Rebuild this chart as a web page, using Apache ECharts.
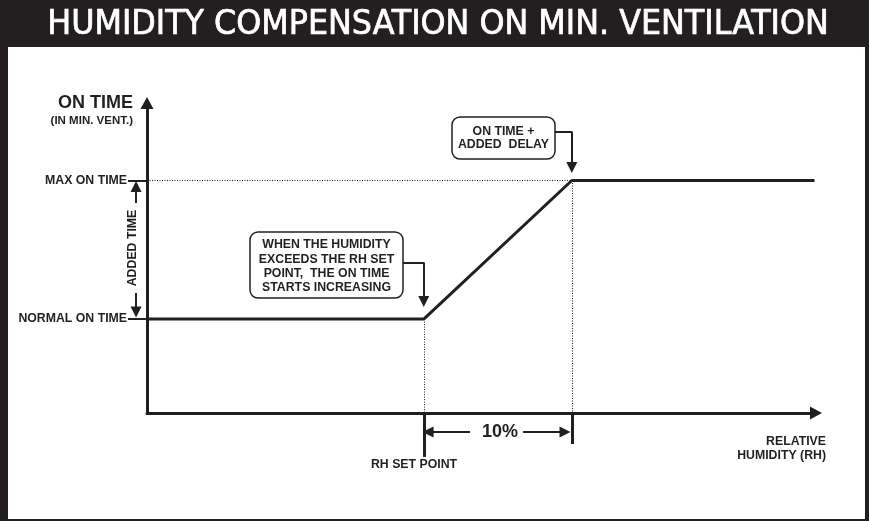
<!DOCTYPE html>
<html>
<head>
<meta charset="utf-8">
<style>
  html, body { margin: 0; padding: 0; background: #ffffff; }
  #chart { width: 869px; height: 521px; }
</style>
<script src="https://cdn.jsdelivr.net/npm/echarts@6/dist/echarts.min.js"></script>
</head>
<body>
<div id="chart"></div>
<script>
// Relative humidity (%) and ON time (arbitrary units of the min. ventilation cycle)
const rhAxisRange = [41.3, 86.5];
const onTimeAxisRange = [0, 132];

const rhSetPoint = 60;          // RH set point
const rhBand = 10;              // compensation band, in % RH
const normalOnTime = 40;
const maxOnTime = 99;

// Compensation curve
const curveRh = [41.3, 60, 70, 86.4];
const curveOnTime = [40, 40, 99, 99];

// Y axis tick labels
const yTickValues = [normalOnTime, maxOnTime];
const yTickNames = ['NORMAL ON TIME', 'MAX ON TIME'];

const INK = '#231f20';
const LABEL_FONT = 'bold 12.3px "Liberation Sans", Arial, sans-serif';

const chart = echarts.init(document.getElementById('chart'), null, { renderer: 'canvas' });

const rhFull = rhSetPoint + rhBand;
const xLeftOut = rhAxisRange[0] - 0.74;   // just left of the Y axis

const option = {
  backgroundColor: '#ffffff',
  animation: false,
  grid: { left: 147, right: 53, top: 103, bottom: 108, containLabel: false },
  xAxis: {
    type: 'value',
    min: rhAxisRange[0], max: rhAxisRange[1],
    axisLine: { show: true, symbol: ['none', 'triangle'], symbolSize: [13, 12],
                lineStyle: { color: INK, width: 3 } },
    axisTick: { show: false },
    axisLabel: { show: false },
    splitLine: { show: false }
  },
  yAxis: {
    type: 'value',
    min: onTimeAxisRange[0], max: onTimeAxisRange[1],
    axisLine: { show: true, symbol: ['none', 'triangle'], symbolSize: [13, 12],
                lineStyle: { color: INK, width: 3 } },
    axisTick: { show: true, customValues: yTickValues, length: 19,
                lineStyle: { color: INK, width: 2 } },
    axisLabel: {
      show: true, customValues: yTickValues, margin: 20,
      color: INK, fontFamily: '"Liberation Sans", Arial, sans-serif',
      fontWeight: 'bold', fontSize: 12.3,
      formatter: function (v) { return yTickNames[yTickValues.indexOf(v)] || ''; }
    },
    splitLine: { show: false }
  },
  series: [
    {
      name: 'ON time',
      type: 'line',
      data: curveRh.map((x, i) => [x, curveOnTime[i]]),
      symbol: 'none',
      lineStyle: { color: INK, width: 3 },
      clip: false,
      z: 5
    },
    {
      name: 'guides',
      type: 'lines',
      coordinateSystem: 'cartesian2d',
      clip: false,
      symbol: 'none',
      lineStyle: { color: INK, width: 1, type: [1, 1.5], opacity: 1 },
      data: [
        { coords: [[rhAxisRange[0], maxOnTime], [rhFull, maxOnTime]] },
        { coords: [[rhSetPoint, normalOnTime], [rhSetPoint, 0]] },
        { coords: [[rhFull, maxOnTime], [rhFull, 0]] }
      ],
      z: 3
    },
    {
      name: 'plain strokes',
      type: 'lines',
      coordinateSystem: 'cartesian2d',
      clip: false,
      symbol: 'none',
      lineStyle: { color: INK, width: 3, opacity: 1 },
      data: [
        // band ticks below the RH axis
        { coords: [[rhSetPoint, 0], [rhSetPoint, -18.7]] },
        { coords: [[rhFull, 0], [rhFull, -13.2]] }
      ]
    },
    {
      name: 'leaders',
      type: 'lines',
      coordinateSystem: 'cartesian2d',
      clip: false,
      symbol: 'none',
      lineStyle: { color: INK, width: 2, opacity: 1 },
      data: [
        { coords: [[58.6, 63.9], [rhSetPoint + 0.05, 63.9]] },
        { coords: [[68.87, 119.7], [rhFull + 0.05, 119.7]] }
      ]
    },
    {
      name: 'arrows',
      type: 'lines',
      coordinateSystem: 'cartesian2d',
      clip: false,
      symbol: ['none', 'triangle'],
      symbolSize: [9, 11],
      lineStyle: { color: INK, width: 2, opacity: 1 },
      data: [
        // 10 % band dimension
        { coords: [[63.12, -8.1], [60.29, -8.1]] },
        { coords: [[66.71, -8.1], [69.54, -8.1]] },
        // added time
        { coords: [[xLeftOut, 89.4], [xLeftOut, 96.4]] },
        { coords: [[xLeftOut, 51.1], [xLeftOut, 43.0]] },
        // callout leaders
        { coords: [[rhSetPoint, 63.9], [rhSetPoint, 47.5]] },
        { coords: [[rhFull, 119.7], [rhFull, 104.5]] }
      ],
      z: 4
    }
  ],
  graphic: [
    // frame and title bar
    { type: 'rect', silent: true, z: -10, shape: { x: 0, y: 0, width: 869, height: 521 },
      style: { fill: INK } },
    { type: 'rect', silent: true, z: -9, shape: { x: 8, y: 47, width: 857, height: 472 },
      style: { fill: '#ffffff' } },
    { type: 'text', silent: true, x: 438, y: 25, scaleX: 1.04,
      style: { text: 'HUMIDITY COMPENSATION ON MIN. VENTILATION', fill: '#ffffff',
               stroke: '#ffffff', lineWidth: 0.7,
               font: '34px "Liberation Sans Narrow", "DejaVu Sans Condensed", sans-serif',
               align: 'center', verticalAlign: 'middle' } },

    // axis titles
    { type: 'text', silent: true, x: 133, y: 103,
      style: { text: 'ON TIME', fill: INK, font: 'bold 18px "Liberation Sans", Arial, sans-serif',
               align: 'right', verticalAlign: 'middle' } },
    { type: 'text', silent: true, x: 133, y: 121,
      style: { text: '(IN MIN. VENT.)', fill: INK, font: 'bold 11.5px "Liberation Sans", Arial, sans-serif',
               align: 'right', verticalAlign: 'middle' } },
    { type: 'text', silent: true, x: 826, y: 449,
      style: { text: 'RELATIVE\nHUMIDITY (RH)', fill: INK, font: LABEL_FONT, lineHeight: 14,
               align: 'right', verticalAlign: 'middle' } },
    { type: 'text', silent: true, x: 414, y: 465,
      style: { text: 'RH SET POINT', fill: INK, font: LABEL_FONT,
               align: 'center', verticalAlign: 'middle' } },
    { type: 'text', silent: true, x: 133, y: 248, rotation: Math.PI / 2,
      style: { text: 'ADDED TIME', fill: INK, font: LABEL_FONT,
               align: 'center', verticalAlign: 'middle' } },
    { type: 'text', silent: true, x: 500, y: 432,
      style: { text: '10%', fill: INK, font: 'bold 18px "Liberation Sans", Arial, sans-serif',
               align: 'center', verticalAlign: 'middle' } },

    // callouts
    { type: 'rect', silent: true, shape: { x: 250, y: 232, width: 153, height: 66, r: 8 },
      style: { fill: '#ffffff', stroke: INK, lineWidth: 1.5 } },
    { type: 'text', silent: true, x: 326.5, y: 266.5,
      style: { text: 'WHEN THE HUMIDITY\nEXCEEDS THE RH SET\nPOINT,  THE ON TIME\nSTARTS INCREASING',
               fill: INK, font: LABEL_FONT, lineHeight: 14.3,
               align: 'center', verticalAlign: 'middle' } },
    { type: 'rect', silent: true, shape: { x: 452, y: 117, width: 103, height: 42, r: 8 },
      style: { fill: '#ffffff', stroke: INK, lineWidth: 1.5 } },
    { type: 'text', silent: true, x: 503.5, y: 138.5,
      style: { text: 'ON TIME +\nADDED  DELAY', fill: INK, font: LABEL_FONT, lineHeight: 13,
               align: 'center', verticalAlign: 'middle' } }
  ]
};

chart.setOption(option);
</script>
</body>
</html>
